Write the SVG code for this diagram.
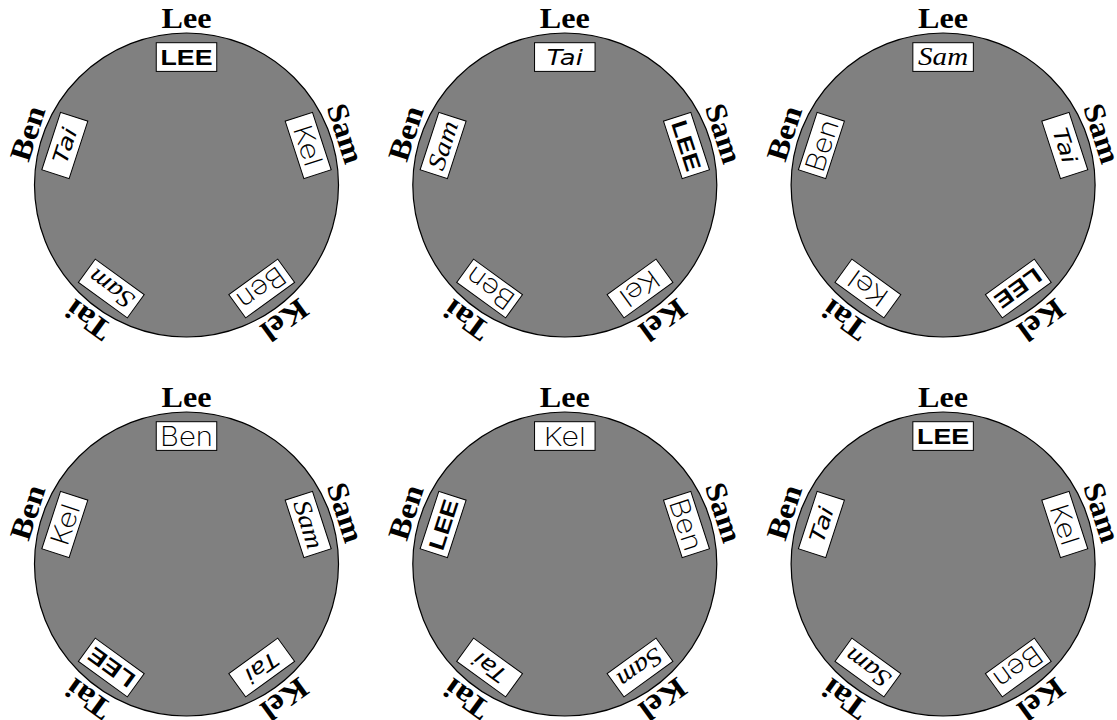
<svg xmlns="http://www.w3.org/2000/svg" width="1117" height="720" viewBox="0 0 1117 720">
  <style>
    .table { fill: #808080; stroke: #000; stroke-width: 1.2; }
    .card { fill: #fff; stroke: #000; stroke-width: 1; }
    .seat { font-family: "Liberation Serif", serif; font-weight: bold; font-size: 30px; text-anchor: middle; fill: #000; }
    .nm { text-anchor: middle; fill: #000; }
    .lee { font-family: "Liberation Sans", "DejaVu Sans", sans-serif; font-weight: bold; font-size: 22px; }
    .tai { font-family: "DejaVu Sans", sans-serif; font-style: oblique; font-size: 21px; }
    .sam { font-family: "Liberation Serif", serif; font-style: italic; font-size: 25px; }
    .ben { font-family: "Inter", "DejaVu Sans", sans-serif; font-weight: 200; font-size: 27px; }
    .kel { font-family: "Inter", "DejaVu Sans", sans-serif; font-weight: 200; font-size: 26px; }
  </style>
  <defs>
    <!-- seat name labels around the rim, one per seat angle -->
    <text id="seat-lee" class="seat" x="0" y="-157" textLength="50" lengthAdjust="spacingAndGlyphs">Lee</text>
    <text id="seat-sam" class="seat" x="0" y="-157" textLength="61" lengthAdjust="spacingAndGlyphs">Sam</text>
    <text id="seat-kel" class="seat" x="0" y="-157" textLength="50" lengthAdjust="spacingAndGlyphs">Kel</text>
    <text id="seat-tai" class="seat" x="0" y="-157" textLength="48" lengthAdjust="spacingAndGlyphs">Tai</text>
    <text id="seat-ben" class="seat" x="0" y="-157" textLength="56" lengthAdjust="spacingAndGlyphs">Ben</text>
    <!-- place cards, each written in its owner's hand -->
    <g id="card-lee"><rect class="card" x="-30.25" y="-142.3" width="60.5" height="28.7"/><text class="nm lee" x="0" y="-120" textLength="52" lengthAdjust="spacingAndGlyphs">LEE</text></g>
    <g id="card-tai"><rect class="card" x="-30.25" y="-142.3" width="60.5" height="28.7"/><text class="nm tai" x="0" y="-120.5" textLength="36" lengthAdjust="spacingAndGlyphs">Tai</text></g>
    <g id="card-sam"><rect class="card" x="-30.25" y="-142.3" width="60.5" height="28.7"/><text class="nm sam" x="0" y="-120" textLength="50" lengthAdjust="spacingAndGlyphs">Sam</text></g>
    <g id="card-ben"><rect class="card" x="-30.25" y="-142.3" width="60.5" height="28.7"/><text class="nm ben" x="0" y="-118" textLength="53" lengthAdjust="spacingAndGlyphs">Ben</text></g>
    <g id="card-kel"><rect class="card" x="-30.25" y="-142.3" width="60.5" height="28.7"/><text class="nm kel" x="0" y="-118.5" textLength="42" lengthAdjust="spacingAndGlyphs">Kel</text></g>
    <!-- the five seat labels at 72 degree steps -->
    <g id="seats">
      <use href="#seat-lee"/>
      <use href="#seat-sam" transform="rotate(72)"/>
      <use href="#seat-kel" transform="rotate(144)"/>
      <use href="#seat-tai" transform="rotate(216)"/>
      <use href="#seat-ben" transform="rotate(288)"/>
    </g>
  </defs>

  <!-- table 1 -->
  <g id="table1" transform="translate(186.5,185)">
    <circle class="table" r="152"/>
    <use href="#seats"/>
    <use href="#card-lee"/>
    <use href="#card-kel" transform="rotate(72)"/>
    <use href="#card-ben" transform="rotate(144)"/>
    <use href="#card-sam" transform="rotate(216)"/>
    <use href="#card-tai" transform="rotate(288)"/>
  </g>

  <!-- table 2 -->
  <g id="table2" transform="translate(564.8,185)">
    <circle class="table" r="152"/>
    <use href="#seats"/>
    <use href="#card-tai"/>
    <use href="#card-lee" transform="rotate(72)"/>
    <use href="#card-kel" transform="rotate(144)"/>
    <use href="#card-ben" transform="rotate(216)"/>
    <use href="#card-sam" transform="rotate(288)"/>
  </g>

  <!-- table 3 -->
  <g id="table3" transform="translate(943.1,185)">
    <circle class="table" r="152"/>
    <use href="#seats"/>
    <use href="#card-sam"/>
    <use href="#card-tai" transform="rotate(72)"/>
    <use href="#card-lee" transform="rotate(144)"/>
    <use href="#card-kel" transform="rotate(216)"/>
    <use href="#card-ben" transform="rotate(288)"/>
  </g>

  <!-- table 4 -->
  <g id="table4" transform="translate(186.5,564)">
    <circle class="table" r="152"/>
    <use href="#seats"/>
    <use href="#card-ben"/>
    <use href="#card-sam" transform="rotate(72)"/>
    <use href="#card-tai" transform="rotate(144)"/>
    <use href="#card-lee" transform="rotate(216)"/>
    <use href="#card-kel" transform="rotate(288)"/>
  </g>

  <!-- table 5 -->
  <g id="table5" transform="translate(564.8,564)">
    <circle class="table" r="152"/>
    <use href="#seats"/>
    <use href="#card-kel"/>
    <use href="#card-ben" transform="rotate(72)"/>
    <use href="#card-sam" transform="rotate(144)"/>
    <use href="#card-tai" transform="rotate(216)"/>
    <use href="#card-lee" transform="rotate(288)"/>
  </g>

  <!-- table 6 -->
  <g id="table6" transform="translate(943.1,564)">
    <circle class="table" r="152"/>
    <use href="#seats"/>
    <use href="#card-lee"/>
    <use href="#card-kel" transform="rotate(72)"/>
    <use href="#card-ben" transform="rotate(144)"/>
    <use href="#card-sam" transform="rotate(216)"/>
    <use href="#card-tai" transform="rotate(288)"/>
  </g>
</svg>
